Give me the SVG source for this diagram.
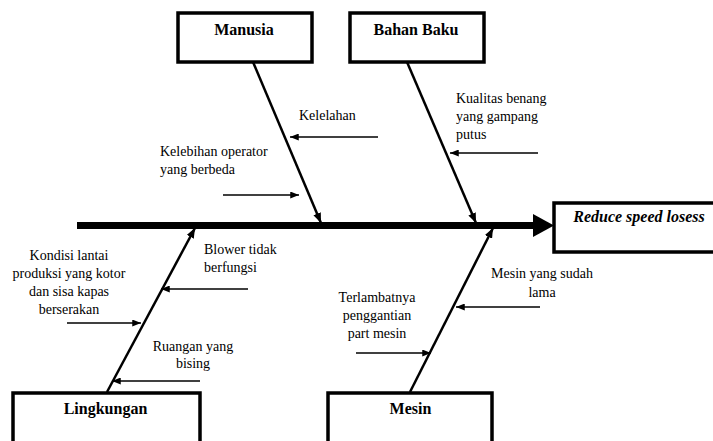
<svg xmlns="http://www.w3.org/2000/svg" width="713" height="441" viewBox="0 0 713 441">
<style>
.box{fill:#fff;stroke:#000;stroke-width:3.5}
.title{font-family:"Liberation Serif",serif;font-weight:bold;font-size:16px;text-anchor:middle;fill:#000}
.lbl{font-family:"Liberation Serif",serif;font-size:14px;fill:#000}
.c{text-anchor:middle}
.bone{stroke:#000;stroke-width:2.5;fill:none}
.sub{stroke:#000;stroke-width:1.3;fill:none}
</style>
<defs>
<marker id="ab" viewBox="0 0 10 8" refX="10" refY="4" markerWidth="10" markerHeight="8" markerUnits="userSpaceOnUse" orient="auto">
<path d="M0,0 L10,4 L0,8 Z" fill="#000"/>
</marker>
<marker id="as" viewBox="0 0 10 8" refX="10" refY="4" markerWidth="9" markerHeight="7" markerUnits="userSpaceOnUse" orient="auto">
<path d="M0,0 L10,4 L0,8 Z" fill="#000"/>
</marker>
</defs>
<rect width="713" height="441" fill="#fff"/>
<g id="connectors">
<line x1="77" y1="225.5" x2="534" y2="225.5" stroke="#000" stroke-width="7"/>
<path d="M533,214 L554,225.5 L533,237 Z" fill="#000"/>
<line class="bone" x1="253" y1="62" x2="321" y2="223" marker-end="url(#ab)"/>
<line class="bone" x1="407" y1="62" x2="476" y2="223" marker-end="url(#ab)"/>
<line class="bone" x1="107" y1="392" x2="195" y2="228" marker-end="url(#ab)"/>
<line class="bone" x1="410" y1="392" x2="493" y2="228" marker-end="url(#ab)"/>
<line class="sub" x1="378" y1="137" x2="290" y2="137" marker-end="url(#as)"/>
<line class="sub" x1="223" y1="195" x2="299" y2="195" marker-end="url(#as)"/>
<line class="sub" x1="538" y1="153" x2="450" y2="153" marker-end="url(#as)"/>
<line class="sub" x1="248" y1="289" x2="161" y2="289" marker-end="url(#as)"/>
<line class="sub" x1="67" y1="323" x2="141" y2="323" marker-end="url(#as)"/>
<line class="sub" x1="200" y1="381" x2="112" y2="381" marker-end="url(#as)"/>
<line class="sub" x1="356" y1="353" x2="431" y2="353" marker-end="url(#as)"/>
<line class="sub" x1="540" y1="307" x2="456" y2="307" marker-end="url(#as)"/>
</g>
<g id="manusia">
<rect class="box" x="178" y="13" width="134" height="49"/>
<text class="title" x="244" y="35">Manusia</text>
</g>
<g id="bahan-baku">
<rect class="box" x="350" y="13" width="134" height="49"/>
<text class="title" x="416" y="35">Bahan Baku</text>
</g>
<g id="effect">
<rect class="box" x="554" y="203" width="170" height="49"/>
<text class="title" x="639" y="222" font-style="italic">Reduce speed losess</text>
</g>
<g id="lingkungan">
<rect class="box" x="13" y="393" width="187" height="60"/>
<text class="title" x="105.5" y="414">Lingkungan</text>
</g>
<g id="mesin">
<rect class="box" x="328" y="393" width="164" height="60"/>
<text class="title" x="410.5" y="414">Mesin</text>
</g>
<g id="causes">
<text class="lbl" x="299" y="120">Kelelahan</text>
<text class="lbl" x="160" y="156">Kelebihan operator</text>
<text class="lbl" x="160" y="174">yang berbeda</text>
<text class="lbl" x="456" y="103">Kualitas benang</text>
<text class="lbl" x="456" y="121">yang gampang</text>
<text class="lbl" x="456" y="139">putus</text>
<text class="lbl" x="204" y="254">Blower tidak</text>
<text class="lbl" x="204" y="272">berfungsi</text>
<text class="lbl c" x="69" y="260">Kondisi lantai</text>
<text class="lbl c" x="69" y="278">produksi yang kotor</text>
<text class="lbl c" x="69" y="296">dan sisa kapas</text>
<text class="lbl c" x="69" y="314">berserakan</text>
<text class="lbl c" x="193" y="351">Ruangan yang</text>
<text class="lbl c" x="193" y="368">bising</text>
<text class="lbl c" x="377" y="302">Terlambatnya</text>
<text class="lbl c" x="377" y="320">penggantian</text>
<text class="lbl c" x="377" y="338">part mesin</text>
<text class="lbl c" x="542" y="278">Mesin yang sudah</text>
<text class="lbl c" x="542" y="297">lama</text>
</g>
</svg>
